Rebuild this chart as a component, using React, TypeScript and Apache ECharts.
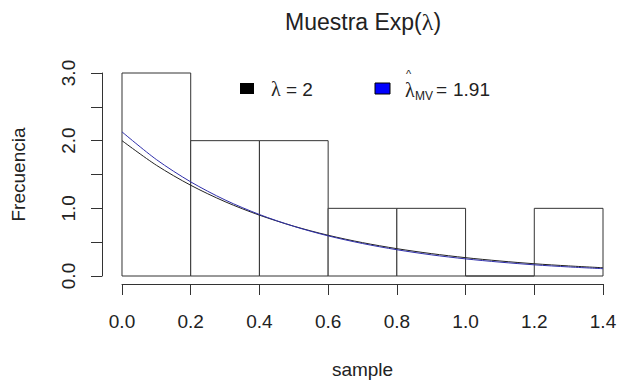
import React, { useEffect, useRef } from "react";
import * as echarts from "echarts";

// Histogram bins (edges) and counts of the sample
const binEdges = [0, 0.2, 0.4, 0.6, 0.8, 1.0, 1.2, 1.4];
const binCounts = [3, 2, 2, 1, 1, 0, 1];

// Density curves evaluated on a grid of x values
const curveX = [0, 0.1, 0.2, 0.3, 0.4, 0.5, 0.6, 0.7, 0.8, 0.9, 1.0, 1.1, 1.2, 1.3, 1.4];
const densityTrue = [2.0, 1.637, 1.341, 1.098, 0.899, 0.736, 0.602, 0.493, 0.404, 0.331, 0.271, 0.222, 0.181, 0.149, 0.122];
const densityMV = [2.13, 1.721, 1.391, 1.124, 0.909, 0.734, 0.593, 0.48, 0.388, 0.313, 0.253, 0.205, 0.165, 0.134, 0.108];

const yTickLabels = ["0.0", "1.0", "2.0", "3.0"];
const lambdaTrue = "2";
const lambdaMV = "1.91";

const SANS = "'Liberation Sans', Arial, sans-serif";
const SERIF = "'Liberation Serif', 'DejaVu Serif', serif";
const INK = "#222";
const LINE = "#333";
const FS = 19;

export default function App() {
  const ref = useRef<HTMLDivElement>(null);

  useEffect(() => {
    if (!ref.current) return;
    const chart = echarts.init(ref.current, undefined, { renderer: "svg" });

    const histData = binCounts.map((c, i) => [binEdges[i], binEdges[i + 1], c]);

    chart.setOption({
      animation: false,
      backgroundColor: "#fff",
      title: {
        text: "Muestra Exp({l|λ})",
        left: 280,
        top: 5,
        textStyle: {
          fontFamily: SANS,
          fontSize: 23,
          fontWeight: "normal",
          color: INK,
          rich: {
            l: { fontFamily: SERIF, fontSize: 24, color: INK },
          },
        },
      },
      grid: { left: 122, right: 14, top: 73, bottom: 107, outerBoundsMode: "none", containLabel: false },
      xAxis: {
        type: "value",
        min: 0,
        max: 1.4,
        interval: 0.2,
        offset: 8,
        name: "sample",
        nameLocation: "middle",
        nameGap: 76,
        nameTextStyle: { fontFamily: SANS, fontSize: FS, color: INK },
        axisLine: { show: true, onZero: false, lineStyle: { color: LINE, width: 1 } },
        axisTick: { show: true, length: 11, lineStyle: { color: LINE, width: 1 } },
        axisLabel: {
          margin: 28,
          fontFamily: SANS,
          fontSize: FS,
          color: INK,
          formatter: (v: number) => v.toFixed(1),
        },
        splitLine: { show: false },
      },
      yAxis: {
        type: "value",
        min: 0,
        max: 3,
        interval: 0.5,
        offset: 20,
        name: "Frecuencia",
        nameLocation: "middle",
        nameGap: 74,
        nameTextStyle: { fontFamily: SANS, fontSize: FS, color: INK },
        axisLine: { show: true, onZero: false, lineStyle: { color: LINE, width: 1 } },
        axisTick: { show: true, length: 11, lineStyle: { color: LINE, width: 1 } },
        axisLabel: {
          rotate: 90,
          margin: 24,
          fontFamily: SANS,
          fontSize: FS,
          color: INK,
          formatter: (v: number) => (Number.isInteger(v) ? yTickLabels[v] : ""),
        },
        splitLine: { show: false },
      },
      series: [
        {
          type: "custom",
          name: "sample",
          data: histData,
          encode: { x: [0, 1], y: 2 },
          clip: false,
          renderItem: (_params: any, api: any) => {
            const p0 = api.coord([api.value(0), api.value(2)]);
            const p1 = api.coord([api.value(1), 0]);
            return {
              type: "rect",
              shape: { x: p0[0], y: p0[1], width: p1[0] - p0[0], height: p1[1] - p0[1] },
              style: { fill: "#fff", stroke: LINE, lineWidth: 1 },
            };
          },
          z: 1,
        },
        {
          type: "line",
          name: "λ = 2",
          data: curveX.map((x, i) => [x, densityTrue[i]]),
          showSymbol: false,
          smooth: 0.3,
          lineStyle: { color: "#222", width: 1 },
          z: 2,
        },
        {
          type: "line",
          name: "λ MV",
          data: curveX.map((x, i) => [x, densityMV[i]]),
          showSymbol: false,
          smooth: 0.3,
          lineStyle: { color: "#2e2eaa", width: 1 },
          z: 3,
        },
      ],
      graphic: [
        { type: "rect", shape: { x: 240, y: 83, width: 14, height: 11 }, style: { fill: "#000" } },
        {
          type: "text",
          x: 271,
          y: 89,
          style: {
            text: "{l|λ}{s| = " + lambdaTrue + "}",
            verticalAlign: "middle",
            rich: {
              l: { fontFamily: SERIF, fontSize: 20, fill: INK },
              s: { fontFamily: SANS, fontSize: FS, fill: INK },
            },
          },
        },
        {
          type: "rect",
          shape: { x: 375, y: 83, width: 15, height: 11 },
          style: { fill: "#0000ff", stroke: "#000", lineWidth: 1 },
        },
        {
          type: "text",
          x: 405,
          y: 90,
          style: { text: "λ", fontFamily: SERIF, fontSize: 20, fill: INK, verticalAlign: "middle" },
        },
        {
          type: "text",
          x: 406,
          y: 74,
          style: { text: "^", fontFamily: SANS, fontSize: 11, fill: INK, verticalAlign: "middle" },
        },
        {
          type: "text",
          x: 415,
          y: 96,
          style: { text: "MV", fontFamily: SANS, fontSize: 12, fill: INK, verticalAlign: "middle" },
        },
        {
          type: "text",
          x: 436,
          y: 89,
          style: { text: "=", fontFamily: SANS, fontSize: FS, fill: INK, verticalAlign: "middle" },
        },
        {
          type: "text",
          x: 453,
          y: 89,
          style: { text: lambdaMV, fontFamily: SANS, fontSize: FS, fill: INK, verticalAlign: "middle" },
        },
      ],
    });

    return () => chart.dispose();
  }, []);

  return <div ref={ref} style={{ position: "absolute", left: 0, top: 0, width: 617, height: 383 }} />;
}
